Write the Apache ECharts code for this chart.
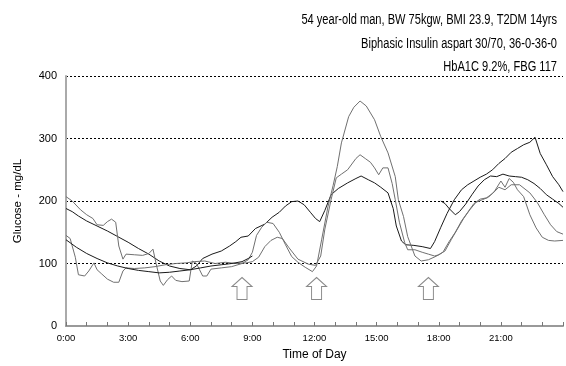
<!DOCTYPE html>
<html>
<head>
<meta charset="utf-8">
<script src="https://cdn.jsdelivr.net/npm/echarts@6/dist/echarts.min.js"></script>
<style>html,body{margin:0;padding:0;background:#fff;}#c{width:566px;height:366px;}</style>
</head>
<body>
<div id="c"></div>
<script>
// Title lines
const titleLines = [
  '54 year-old man, BW 75kgw, BMI 23.9, T2DM 14yrs',
  'Biphasic Insulin aspart 30/70, 36-0-36-0',
  'HbA1C 9.2%, FBG 117'
];
// x tick labels every 3 hours
const xTickHours = [0, 3, 6, 9, 12, 15, 18, 21];
const xTickLabels = ['0:00', '3:00', '6:00', '9:00', '12:00', '15:00', '18:00', '21:00'];
// insulin injection arrows (hour of day) and level on the glucose scale
const arrowTimes = [8.5, 12.1, 17.5];
const arrowLevel = 60;

// CGM traces: [hour, mg/dL]
const day1 = [[18.1,200],[18.3,196],[18.5,188],[18.8,178],[19.0,183],[19.3,195],[19.6,210],[19.9,224],[20.2,234],[20.5,240],[20.8,239],[21.1,243],[21.4,240],[21.7,239],[22.0,238],[22.3,234],[22.6,228],[22.9,220],[23.2,210],[23.5,203],[23.8,196],[24,190]];
const day2 = [[0,188],[0.3,183],[0.6,176],[1,168],[1.5,160],[2,152],[2.5,143],[3,134],[3.5,124],[4,115],[4.5,104],[5,96],[5.5,92],[6,90],[6.3,96],[6.6,108],[7.05,115],[7.5,120],[7.9,128],[8.2,135],[8.45,142],[8.8,144],[9.15,156],[9.6,163],[9.95,174],[10.3,182],[10.6,192],[10.9,199],[11.2,200],[11.5,194],[11.8,182],[12.05,172],[12.25,167],[12.5,185],[12.8,210],[13.15,220],[13.6,229],[14.0,236],[14.25,240],[14.6,234],[14.9,229],[15.2,222],[15.55,213],[15.8,188],[15.95,160],[16.2,136],[16.4,130],[16.8,129],[17.2,127],[17.6,124],[17.8,135],[18.1,158],[18.4,180],[18.75,202],[19.1,218],[19.4,226],[19.7,232],[20.0,238],[20.3,243],[20.6,250],[20.9,260],[21.2,268],[21.5,278],[21.8,284],[22.1,290],[22.4,294],[22.65,302],[22.9,276],[23.2,258],[23.5,239],[23.8,226],[24,215]];
const day3 = [[0,207],[0.3,200],[0.7,186],[1.0,178],[1.3,172],[1.5,162],[1.8,161],[2.0,167],[2.2,171],[2.4,166],[2.55,128],[2.75,107],[2.9,115],[3.3,114],[3.7,113],[4.0,116],[4.2,123],[4.35,100],[4.55,72],[4.7,65],[4.9,74],[5.1,80],[5.3,73],[5.6,71],[5.95,72],[6.1,104],[6.3,100],[6.45,90],[6.6,80],[6.8,80],[7.0,91],[7.5,93],[8.0,95],[8.5,100],[8.8,106],[9.0,118],[9.2,145],[9.45,158],[9.7,166],[10.0,164],[10.3,150],[10.6,130],[10.9,111],[11.2,102],[11.55,94],[11.9,87],[12.1,96],[12.35,139],[12.65,191],[12.9,225],[13.1,255],[13.3,293],[13.65,335],[13.9,350],[14.2,360],[14.5,352],[14.9,330],[15.2,303],[15.55,277],[15.9,239],[16.05,202],[16.3,175],[16.5,143],[16.85,112],[17.15,104],[17.5,106],[17.9,112],[18.2,118],[18.5,135],[18.8,150],[19.1,168],[19.4,182],[19.7,196],[20.0,203],[20.3,205],[20.6,212],[20.9,222],[21.2,218],[21.5,226],[21.9,226],[22.4,213],[22.75,198],[23.1,178],[23.4,162],[23.7,151],[24,147]];
const day4 = [[0,145],[0.2,140],[0.45,110],[0.6,82],[0.9,80],[1.1,88],[1.35,101],[1.5,90],[1.7,84],[2.0,75],[2.3,70],[2.55,70],[2.75,88],[2.9,93],[3.3,92],[3.8,93],[4.3,95],[4.8,98],[5.3,100],[5.8,101],[6.2,103],[6.7,104],[7.2,100],[7.7,102],[8.2,100],[8.7,101],[9.0,103],[9.3,110],[9.6,127],[9.9,137],[10.2,142],[10.45,140],[10.75,126],[11.2,107],[11.7,99],[12.05,97],[12.3,112],[12.5,155],[12.8,202],[13.05,237],[13.3,243],[13.6,250],[14.0,268],[14.2,274],[14.45,268],[14.7,262],[14.9,253],[15.1,242],[15.3,253],[15.55,253],[15.75,228],[15.9,202],[16.1,166],[16.35,134],[16.5,122],[16.85,122],[17.2,118],[17.5,115],[17.8,112],[18.0,114],[18.3,120],[18.6,138],[18.9,155],[19.2,172],[19.5,186],[19.8,198],[20.1,202],[20.4,206],[20.7,216],[21.0,232],[21.2,222],[21.4,236],[21.6,230],[21.8,218],[22.1,207],[22.4,178],[22.7,157],[23.0,142],[23.3,137],[23.6,136],[24,137]];
const day5 = [[0,138],[0.5,126],[1.0,116],[1.5,108],[2.0,101],[2.5,96],[3.0,92],[3.5,89],[4.0,87],[4.5,85],[5.0,86],[5.5,88],[6.0,90],[6.5,93],[7.0,96],[7.5,98],[8.0,100],[8.5,103],[8.8,108],[9.0,112]];

const traces = [
  {name: 'Day 1', data: day1, color: '#1a1a1a'},
  {name: 'Day 2', data: day2, color: '#1a1a1a'},
  {name: 'Day 3', data: day3, color: '#707070'},
  {name: 'Day 4', data: day4, color: '#707070'},
  {name: 'Day 5', data: day5, color: '#1a1a1a'}
];

const FONT = 'Liberation Sans, Arial, sans-serif';
const arrowPath = 'path://M10,0 L20,9 L15,9 L15,22 L5,22 L5,9 L0,9 Z';

const series = traces.map((t, i) => ({
  name: t.name,
  type: 'line',
  data: t.data,
  showSymbol: false,
  silent: true,
  lineStyle: {color: t.color, width: 1},
  itemStyle: {color: t.color},
  z: 3,
  markPoint: i === 0 ? {
    silent: true,
    symbol: arrowPath,
    symbolSize: [20, 22],
    itemStyle: {color: '#ffffff', borderColor: '#8a8a8a', borderWidth: 1},
    label: {show: false},
    data: arrowTimes.map(h => ({coord: [h, arrowLevel]}))
  } : undefined
}));

const titleCenters = [20, 44, 67];

const chart = echarts.init(document.getElementById('c'), null, {renderer: 'canvas'});
chart.setOption({
  animation: false,
  backgroundColor: '#ffffff',
  graphic: titleLines.map((s, i) => ({
    type: 'text',
    x: 557,
    y: titleCenters[i],
    scaleX: 0.715,
    silent: true,
    style: {text: s, x: 0, y: 0, align: 'right', verticalAlign: 'middle', fontFamily: FONT, fontSize: 15.5, fill: '#000'}
  })),
  grid: {left: 66, right: 0, top: 76, bottom: 39, containLabel: false},
  xAxis: {
    type: 'value',
    min: 0, max: 24, interval: 1,
    name: 'Time of Day',
    nameLocation: 'middle',
    nameGap: 23,
    nameTextStyle: {fontFamily: FONT, fontSize: 12, color: '#000'},
    axisLine: {show: true, lineStyle: {color: '#999', width: 2}},
    axisTick: {show: true, inside: true, length: 4, lineStyle: {color: '#777', width: 1}},
    splitLine: {show: false},
    axisLabel: {
      fontFamily: FONT, fontSize: 9.5, color: '#000', margin: 7,
      formatter: v => { const k = xTickHours.indexOf(v); return k >= 0 ? xTickLabels[k] : ''; }
    }
  },
  yAxis: {
    type: 'value',
    min: 0, max: 400, interval: 100,
    name: 'Glucose - mg/dL',
    nameLocation: 'middle',
    nameGap: 42,
    nameRotate: 90,
    nameTextStyle: {fontFamily: FONT, fontSize: 11.5, color: '#000'},
    axisLine: {show: true, lineStyle: {color: '#aaa', width: 2}},
    axisTick: {show: false},
    axisLabel: {fontFamily: FONT, fontSize: 11, color: '#000', margin: 9},
    splitLine: {show: true, lineStyle: {color: '#000', width: 1, type: [2, 2]}}
  },
  series: series
});
</script>
</body>
</html>
